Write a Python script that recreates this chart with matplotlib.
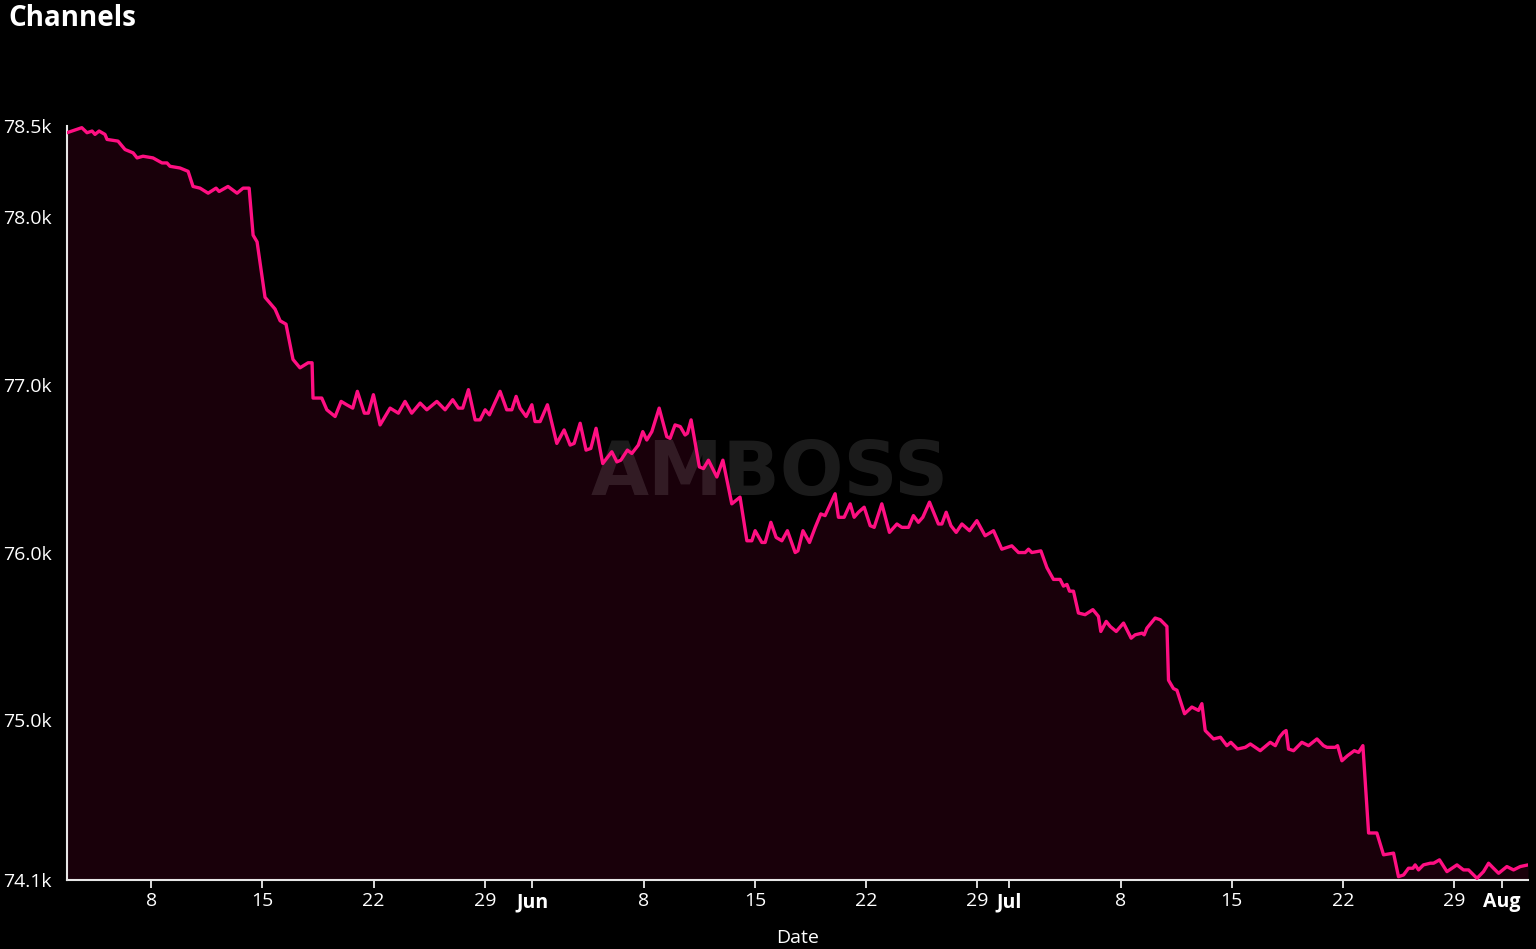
import numpy as np
import pandas as pd
import matplotlib
matplotlib.use("Agg")
import matplotlib.pyplot as plt

# days since 2022-05-01 00:00, channel count in thousands
days = [1.71, 2.64, 2.97, 3.29, 3.47, 3.73, 4.10, 4.23, 4.92, 5.36, 5.87, 6.12, 6.49, 7.12, 7.69,
        8.00, 8.19, 8.82, 9.33, 9.64, 10.08, 10.59, 11.09, 11.28, 11.84, 12.41, 12.79, 13.17, 13.42,
        13.67, 14.17, 14.80, 15.12, 15.49, 15.93, 16.37, 16.88, 17.13, 17.19,
        17.74, 18.06, 18.58, 18.96, 19.31, 19.69, 19.98, 20.42, 20.67, 20.99, 21.20, 21.41, 22.04,
        22.56, 22.98, 23.40, 23.93, 24.35, 24.98, 25.50, 25.98, 26.34, 26.61, 26.97, 27.39, 27.70,
        28.02, 28.29, 28.96, 29.38, 29.70, 29.97, 30.22, 30.60, 30.96, 31.16, 31.48, 31.94, 32.53,
        32.99, 33.37, 33.62, 34.00, 34.37, 34.67, 35.00, 35.42, 35.99, 36.31, 36.56, 36.97, 37.25,
        37.66, 37.94, 38.19, 38.51, 38.97, 39.45, 39.66, 39.97, 40.30, 40.60, 40.75, 40.98, 41.50,
        41.76, 42.07, 42.60, 42.98, 43.54, 44.06, 44.49, 44.80, 45.01, 45.43, 45.64, 46.00, 46.33,
        46.69, 47.04, 47.53, 47.70, 48.02, 48.43, 48.79, 49.14, 49.41, 50.04, 50.25, 50.61, 50.99,
        51.24, 51.51, 51.87, 52.25, 52.50, 52.98, 53.46, 53.93, 54.24, 54.66, 54.97, 55.28, 55.56,
        55.98, 56.54, 56.76, 57.03, 57.33, 57.66, 58.02, 58.50, 58.96, 59.48, 60.01, 60.53, 61.16,
        61.58, 62.00, 62.21, 62.42, 62.99, 63.37, 63.78, 64.20, 64.41, 64.63, 64.79, 65.04, 65.35,
        65.77, 66.26, 66.61, 66.76, 67.10, 67.35, 67.73, 68.19, 68.67, 68.92, 69.35, 69.49, 69.66,
        70.18, 70.50, 70.92, 71.02, 71.33, 71.55, 72.03, 72.49, 72.91, 73.12, 73.33, 73.85, 74.29,
        74.69, 74.94, 75.36, 75.85, 76.17, 76.79, 77.42, 77.74, 78.00, 78.26, 78.42, 78.57, 78.89,
        79.41, 79.83, 80.36, 80.77, 80.99, 81.51, 81.66, 81.93, 82.28, 82.71, 82.98, 83.25, 83.61,
        84.13, 84.55, 85.18, 85.49, 85.81, 86.12, 86.40, 86.54, 86.75, 87.06, 87.49, 87.70, 88.07,
        88.54, 89.17, 89.58, 89.90, 90.43, 90.84, 91.16, 91.47, 91.79, 92.31, 92.73, 93.15, 93.64]

channels = [78.50, 78.53, 78.50, 78.51, 78.49, 78.51, 78.49, 78.46, 78.45, 78.40, 78.38, 78.35, 78.36, 78.35, 78.32,
            78.32, 78.30, 78.29, 78.27, 78.18, 78.17, 78.14, 78.17, 78.15, 78.18, 78.14, 78.17, 78.17, 77.89,
            77.85, 77.52, 77.45, 77.38, 77.36, 77.15, 77.10, 77.13, 77.13, 76.92,
            76.92, 76.85, 76.81, 76.90, 76.88, 76.86, 76.96, 76.83, 76.83, 76.94, 76.85, 76.76, 76.86,
            76.83, 76.90, 76.83, 76.89, 76.85, 76.90, 76.85, 76.91, 76.86, 76.86, 76.97, 76.79, 76.79,
            76.85, 76.82, 76.96, 76.85, 76.85, 76.93, 76.86, 76.81, 76.88, 76.78, 76.78, 76.88, 76.65,
            76.73, 76.64, 76.65, 76.77, 76.61, 76.62, 76.74, 76.53, 76.60, 76.54, 76.55, 76.61, 76.59,
            76.64, 76.72, 76.67, 76.72, 76.86, 76.69, 76.68, 76.76, 76.75, 76.70, 76.71, 76.79, 76.51,
            76.50, 76.55, 76.45, 76.55, 76.29, 76.33, 76.07, 76.07, 76.13, 76.06, 76.06, 76.18, 76.09,
            76.07, 76.13, 76.00, 76.01, 76.13, 76.06, 76.15, 76.23, 76.22, 76.35, 76.21, 76.21, 76.29,
            76.21, 76.24, 76.27, 76.16, 76.15, 76.29, 76.12, 76.17, 76.15, 76.15, 76.22, 76.18, 76.21,
            76.30, 76.17, 76.17, 76.24, 76.16, 76.12, 76.17, 76.13, 76.19, 76.10, 76.13, 76.02, 76.04,
            76.00, 76.00, 76.02, 76.00, 76.01, 75.91, 75.84, 75.84, 75.80, 75.81, 75.77, 75.77, 75.64,
            75.63, 75.66, 75.62, 75.53, 75.59, 75.56, 75.53, 75.58, 75.49, 75.51, 75.52, 75.51, 75.55,
            75.61, 75.60, 75.56, 75.24, 75.19, 75.18, 75.04, 75.08, 75.06, 75.10, 74.94, 74.89, 74.90,
            74.85, 74.87, 74.83, 74.84, 74.86, 74.82, 74.87, 74.85, 74.90, 74.93, 74.94, 74.83, 74.82,
            74.87, 74.85, 74.89, 74.85, 74.84, 74.84, 74.85, 74.76, 74.79, 74.82, 74.81, 74.85, 74.33,
            74.33, 74.20, 74.21, 74.07, 74.08, 74.12, 74.12, 74.14, 74.11, 74.14, 74.15, 74.15, 74.17,
            74.10, 74.14, 74.11, 74.11, 74.06, 74.10, 74.15, 74.12, 74.09, 74.13, 74.11, 74.13, 74.14]

tick_dates = ["2022-05-08", "2022-05-15", "2022-05-22", "2022-05-29", "2022-06-01",
              "2022-06-08", "2022-06-15", "2022-06-22", "2022-06-29", "2022-07-01",
              "2022-07-08", "2022-07-15", "2022-07-22", "2022-07-29", "2022-08-01"]
tick_labels = ["8", "15", "22", "29", "Jun", "8", "15", "22", "29", "Jul",
               "8", "15", "22", "29", "Aug"]
ytick_vals = [74.05, 75.0, 76.0, 77.0, 78.0, 78.54]
ytick_labels = ["74.1k", "75.0k", "76.0k", "77.0k", "78.0k", "78.5k"]

plt.rcParams['font.family'] = ['Open Sans', 'DejaVu Sans']

t = pd.Timestamp("2022-05-01") + pd.to_timedelta(days, unit="D")
ticks = pd.to_datetime(tick_dates)

fig = plt.figure(figsize=(15.36, 9.49), dpi=100, facecolor="black")
ax = fig.add_axes([67/1536, 1-880/949, (1528-67)/1536, (880-126)/949])
ax.set_facecolor("black")

line_c = "#ff0f82"
ax.fill_between(t, channels, ytick_vals[0], color="#19000a", lw=0, zorder=1)
ax.plot(t, channels, color=line_c, lw=2.4, zorder=3,
        solid_joinstyle="round", solid_capstyle="round")

# watermark
ax.text(0.481, 0.538, "AMBOSS", transform=ax.transAxes, ha="center", va="center",
        fontsize=54, fontweight="bold", family="DejaVu Sans", color="white", alpha=0.11, zorder=2)

ax.set_xlim(t[0], t[-1])
ax.set_ylim(ytick_vals[0], ytick_vals[-1])

ax.set_xticks(ticks)
ax.set_xticklabels(tick_labels)
for lab in ax.get_xticklabels():
    if not lab.get_text().isdigit():
        lab.set_fontweight("bold")
ax.set_yticks(ytick_vals)
ax.set_yticklabels(ytick_labels)

ax.tick_params(axis="x", colors="white", labelsize=14, length=6, width=1.2, pad=3, labelcolor="white")
ax.tick_params(axis="y", colors="white", labelsize=14, length=0, pad=11, labelcolor="white")

for s in ["top", "right"]:
    ax.spines[s].set_visible(False)
for s in ["left", "bottom"]:
    ax.spines[s].set_color("#e6e6e6")
    ax.spines[s].set_linewidth(1.5)

ax.set_xlabel("Date", color="white", fontsize=14, labelpad=12)
fig.text(8/1536, 1-19/949, "Channels", color="white", fontsize=20, fontweight="bold", va="center", ha="left")

fig.savefig("out.png", dpi=100, facecolor="black")
